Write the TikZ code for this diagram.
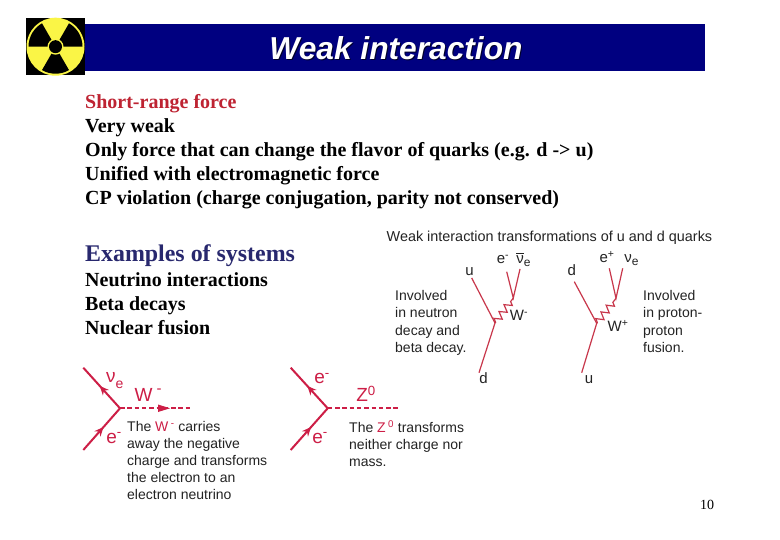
\documentclass[tikz,border=0pt]{standalone}
\usepackage{fontspec}
\setmainfont{Liberation Serif}
\setsansfont{Liberation Sans}
\usetikzlibrary{decorations.pathmorphing,decorations.markings,arrows.meta}
\definecolor{navybar}{RGB}{0,0,128}
\definecolor{exblue}{RGB}{40,40,110}
\definecolor{hotred}{RGB}{205,30,70}
\definecolor{quark}{RGB}{200,55,75}
\definecolor{redtxt}{RGB}{190,35,50}
\definecolor{yel}{RGB}{250,245,70}
\definecolor{txtg}{RGB}{35,35,35}
\newcommand\barnu{\rlap{\raisebox{0.66em}{\rule{0.5em}{0.6pt}}}ν}
\tikzset{
 body/.style={anchor=base west,inner sep=0pt,font=\fontsize{20}{24}\selectfont\bfseries,text=black},
 captxt/.style={anchor=base west,inner sep=0pt,font=\sffamily\fontsize{14}{17}\selectfont,text=txtg},
 lab/.style={anchor=base,inner sep=0pt,font=\sffamily\fontsize{15}{17}\selectfont,text=txtg},
 big/.style={anchor=base,inner sep=0pt,font=\sffamily\fontsize{19}{24}\selectfont,text=hotred},
 qline/.style={draw=quark,line width=1.2pt},
 wig/.style={draw=quark,line width=1.2pt,decorate,decoration={zigzag,segment length=8.5pt,amplitude=3.6pt,pre length=1pt,post length=1pt}},
 fline/.style={draw=hotred,line width=2pt,postaction={decorate},decoration={markings,mark=at position .55 with {\arrow[hotred]{Stealth[length=9pt,width=8pt]}}}},
 dline/.style={draw=hotred,line width=1.8pt,dash pattern=on 4.5pt off 2.8pt},
}
\begin{document}
\begin{tikzpicture}[x=1pt,y=-1pt]
\useasboundingbox (0,0) rectangle (780,540);
\fill[white] (0,0) rectangle (780,540);
% title bar + logo
\fill[navybar] (85,24) rectangle (705,71);
\fill[black] (26,18) rectangle (85,75);
\begin{scope}[shift={(55.5,46.7)}]
 \fill[yel] (0,0) circle (29);
 \foreach \a in {90,210,330}{
  \fill[black] (0,0) -- (\a-30:27) arc (\a-30:\a+30:27) -- cycle;
 }
 \fill[yel] (0,0) circle (8);
 \fill[black] (0,0) circle (6.5);
\end{scope}
\node[inner sep=0pt,text=black!70!navybar,font=\sffamily\bfseries\itshape\fontsize{31.7}{34}\selectfont] (titleS) at (397,49.5) {Weak interaction};
\node[inner sep=0pt,text=white,font=\sffamily\bfseries\itshape\fontsize{31.7}{34}\selectfont] (title) at (396,48.5) {Weak interaction};
% body text
\node[body,text=redtxt] (t1) at (85,108.5) {Short-range force};
\node[body] (t2) at (85,132.5) {Very weak};
\node[body] (t3) at (85,156.5) {Only force that can change the flavor of quarks (e.g. d -> u)};
\node[body] (t4) at (85,180.5) {Unified with electromagnetic force};
\node[body] (t5) at (85,204.5) {CP violation (charge conjugation, parity not conserved)};
\node[body,text=exblue,font=\fontsize{23.9}{24}\selectfont\bfseries] (t6) at (85,262) {Examples of systems};
\node[body] (t7) at (85,287) {Neutrino interactions};
\node[body] (t8) at (85,311) {Beta decays};
\node[body] (t9) at (85,335) {Nuclear fusion};
\node[anchor=base,inner sep=0pt,font=\fontsize{14}{16}\selectfont] (pg) at (707,509) {10};
% quark diagrams
\node[captxt,font=\sffamily\fontsize{14.4}{17}\selectfont] (qt) at (386.5,241.2) {Weak interaction transformations of u and d quarks};
\node[captxt,font=\sffamily\fontsize{14}{17.4}\selectfont,align=left,anchor=north west] (i1) at (395,290) {Involved\\in neutron\\decay and\\beta decay.};
\node[captxt,font=\sffamily\fontsize{14}{17.4}\selectfont,align=left,anchor=north west] (i2) at (643,290) {Involved\\in proton-\\proton\\fusion.};
\coordinate (a1) at (471.7,278);
\coordinate (a2) at (495,323);
\coordinate (a3) at (479,372.7);
\coordinate (a4) at (513.3,298);
\coordinate (a5) at (506.7,271.7);
\coordinate (a6) at (520,269);
\draw[qline] (a1) -- (a2) -- (a3);
\draw[wig] (a2) -- (a4);
\draw[qline] (a5) -- (a4) -- (a6);
\coordinate (b1) at (574.3,281.7);
\coordinate (b2) at (596.7,323.3);
\coordinate (b3) at (581.7,372.7);
\coordinate (b4) at (616,298.3);
\coordinate (b5) at (609.3,268.3);
\coordinate (b6) at (622.7,268.3);
\draw[qline] (b1) -- (b2) -- (b3);
\draw[wig] (b2) -- (b4);
\draw[qline] (b5) -- (b4) -- (b6);
\node[lab] (u1) at (469.5,276) {u};
\node[lab] (d1) at (483.5,384) {d};
\node[lab] (d2) at (571.7,276) {d};
\node[lab] (u2) at (589,384) {u};
\node[lab] (e1) at (503,264) {e\textsuperscript{-}};
\node[lab] (n1) at (520,264) {\barnu\rlap{\raisebox{-3pt}{\fontsize{12}{12}\selectfont e}}};
\node[lab] (e2) at (607,263) {e\textsuperscript{+}};
\node[lab] (n2) at (628,263) {ν\rlap{\raisebox{-3pt}{\fontsize{12}{12}\selectfont e}}};
\node[lab] (w1) at (519,320.7) {W\textsuperscript{-}};
\node[lab] (w2) at (618,331.7) {W\textsuperscript{+}};
% Feynman: W
\coordinate (c0) at (120,408.3);
\coordinate (c1) at (83.3,367.7);
\coordinate (c2) at (83.3,450);
\coordinate (c3) at (191.7,408.3);
\draw[fline] (c0) -- (c1);
\draw[fline] (c2) -- (c0);
\draw[dline] (c0) -- (c3);
\fill[hotred] (158,404.5) -- (170,408.3) -- (158,412) -- cycle;
\node[big,anchor=base west] (nu1) at (106,382) {ν\raisebox{-6pt}{\fontsize{14}{14}\selectfont e}};
\node[big] (wl) at (143.7,401.7) {W};
\node[big] (wm) at (159,393) {\fontsize{15}{15}\selectfont -};
\node[big] (el) at (114,443) {e\textsuperscript{-}};
\node[captxt,align=left,anchor=north west] (wt) at (127,421) {The {\color{hotred}W\,\textsuperscript{-}} carries\\away the negative\\charge and transforms\\the electron to an\\electron neutrino};
% Feynman: Z
\coordinate (f0) at (327.7,408.3);
\coordinate (f1) at (290.7,367.7);
\coordinate (f2) at (290.7,450);
\coordinate (f3) at (398.3,408.3);
\draw[fline] (f0) -- (f1);
\draw[fline] (f2) -- (f0);
\draw[dline] (f0) -- (f3);
\node[big] (e3) at (322,384) {e\textsuperscript{-}};
\node[big] (zl) at (366,401.7) {Z\textsuperscript{0}};
\node[big] (e4) at (320,443) {e\textsuperscript{-}};
\node[captxt,align=left,anchor=north west] (zt) at (349,420.5) {The {\color{hotred}Z\,\textsuperscript{0}} transforms\\neither charge nor\\mass.};
\end{tikzpicture}
\end{document}
